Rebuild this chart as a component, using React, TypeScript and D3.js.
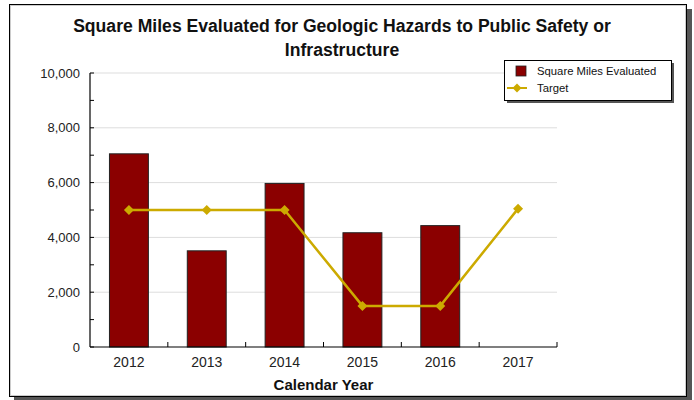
import React from "react";
import * as d3 from "d3";

const categories = ["2012", "2013", "2014", "2015", "2016", "2017"];
const squareMiles: (number | null)[] = [7050, 3510, 5970, 4170, 4430, null];
const target = [5000, 5000, 5000, 1500, 1500, 5050];
const yTicks = [0, 2000, 4000, 6000, 8000, 10000];
const yMinorTicks = [1000, 3000, 5000, 7000, 9000];

const W = 694, H = 400;
const left = 90, right = 557, top = 73, bottom = 347;
const BAR = "#8B0000";
const GOLD = "#CCAA00";
const FONT = "'Liberation Sans', Arial, sans-serif";

export default function App() {
  const x = d3.scaleBand<string>().domain(categories).range([left, right]).paddingInner(0).paddingOuter(0);
  const y = d3.scaleLinear().domain([0, 10000]).range([bottom, top]);
  const bw = x.bandwidth() * 0.5;
  const cx = (c: string) => (x(c) as number) + x.bandwidth() / 2;
  const line = d3.line<number>().x((_, i) => cx(categories[i])).y((d) => y(d));
  const diamond = (px: number, py: number, r: number) =>
    `M${px},${py - r}L${px + r},${py}L${px},${py + r}L${px - r},${py}Z`;

  return (
    <svg width={W} height={H} style={{ position: "absolute", left: 0, top: 0 }} fontFamily={FONT}>
      <rect x={0} y={0} width={W} height={H} fill="#fff" />
      {/* frame shadow */}
      <rect x={687} y={9} width={5} height={391} fill="#555" />
      <rect x={14} y={397} width={678} height={3} fill="#555" />
      {/* frame */}
      <rect x={9.5} y={4.5} width={677} height={392} fill="#fff" stroke="#000" strokeWidth={1} />
      <rect x={10.5} y={5.5} width={675} height={390} fill="none" stroke="#ccc" strokeWidth={1} />

      {/* title */}
      <text x={342} y={32} textAnchor="middle" fontSize={17.6} fontWeight="bold" fill="#111">
        Square Miles Evaluated for Geologic Hazards to Public Safety or
      </text>
      <text x={342} y={56} textAnchor="middle" fontSize={17.6} fontWeight="bold" fill="#111">
        Infrastructure
      </text>

      {/* gridlines */}
      {yTicks.filter((t) => t > 0).map((t) => (
        <line key={"g" + t} x1={left} x2={right} y1={y(t)} y2={y(t)} stroke="#ddd" strokeWidth={1} />
      ))}

      {/* bars */}
      {squareMiles.map((v, i) =>
        v == null ? null : (
          <rect
            key={"b" + i}
            x={cx(categories[i]) - bw / 2}
            y={y(v)}
            width={bw}
            height={bottom - y(v)}
            fill={BAR}
            stroke="#222"
            strokeWidth={1}
          />
        )
      )}

      {/* axes */}
      <line x1={left} x2={left} y1={top} y2={bottom} stroke="#000" strokeWidth={1.2} />
      <line x1={left} x2={right} y1={bottom} y2={bottom} stroke="#000" strokeWidth={1.2} />
      {[...yTicks, ...yMinorTicks].map((t) => (
        <line key={"yt" + t} x1={left} x2={left + 4} y1={y(t)} y2={y(t)} stroke="#000" strokeWidth={1} />
      ))}
      {categories.map((c) => (
        <line key={"xt" + c} x1={(x(c) as number) + x.bandwidth()} x2={(x(c) as number) + x.bandwidth()} y1={bottom} y2={bottom - 5} stroke="#000" strokeWidth={1} />
      ))}
      {yTicks.map((t) => (
        <text key={"yl" + t} x={80} y={y(t) + 4.5} textAnchor="end" fontSize={13} fill="#222">
          {d3.format(",")(t)}
        </text>
      ))}
      {categories.map((c) => (
        <text key={"xl" + c} x={cx(c)} y={367} textAnchor="middle" fontSize={14} fill="#222">
          {c}
        </text>
      ))}
      <text x={(left + right) / 2} y={390} textAnchor="middle" fontSize={15} fontWeight="bold" fill="#111">
        Calendar Year
      </text>

      {/* target line */}
      <path d={line(target) as string} fill="none" stroke={GOLD} strokeWidth={2.5} strokeLinejoin="round" />
      {target.map((v, i) => (
        <path key={"m" + i} d={diamond(cx(categories[i]), y(v), 5)} fill={GOLD} />
      ))}

      {/* legend */}
      <rect x={507} y={63} width={167} height={40} fill="#555" />
      <rect x={504.5} y={60.5} width={167} height={40} fill="#fff" stroke="#000" strokeWidth={1} />
      <rect x={516} y={66} width={10} height={10} fill={BAR} stroke="#222" strokeWidth={0.8} />
      <text x={537} y={75} fontSize={11.3} fill="#111">Square Miles Evaluated</text>
      <line x1={507} x2={527} y1={88} y2={88} stroke={GOLD} strokeWidth={2} />
      <path d={diamond(517, 88, 4.5)} fill={GOLD} />
      <text x={537} y={92} fontSize={11.3} fill="#111">Target</text>
    </svg>
  );
}
